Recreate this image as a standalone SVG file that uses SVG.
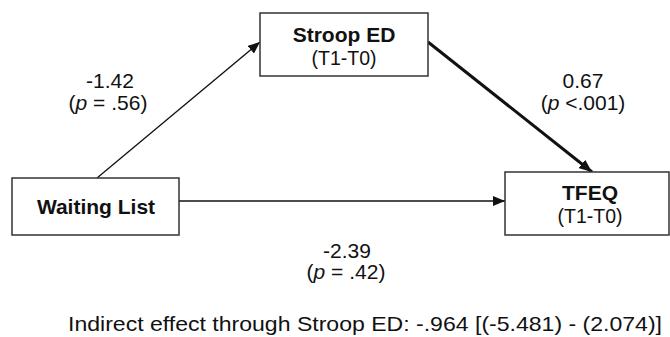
<svg xmlns="http://www.w3.org/2000/svg" width="670" height="337" viewBox="0 0 670 337">
<style>
.box{fill:#fff;stroke:#333;stroke-width:1.5}
.b{font-family:"Liberation Sans",Arial,sans-serif;font-weight:bold;font-size:21px;fill:#111;text-anchor:middle}
.r{font-family:"Liberation Sans",Arial,sans-serif;font-size:19.5px;fill:#111;text-anchor:middle}
.l{font-family:"Liberation Sans",Arial,sans-serif;font-size:21px;fill:#111;text-anchor:middle}
.thin{stroke:#111;stroke-width:1.3;fill:none}
.thick{stroke:#111;stroke-width:3;fill:none}
</style>
<defs>
<marker id="ah" viewBox="0 0 12 10" refX="12" refY="5" markerWidth="12" markerHeight="10" markerUnits="userSpaceOnUse" orient="auto">
<path d="M0,0 L12,5 L0,10 z" fill="#111"/>
</marker>
<marker id="ahk" viewBox="0 0 12 10" refX="12" refY="5" markerWidth="13" markerHeight="11" markerUnits="userSpaceOnUse" orient="auto">
<path d="M0,0 L12,5 L0,10 z" fill="#111"/>
</marker>
</defs>
<g id="connectors">
<line class="thin" x1="97" y1="178" x2="260" y2="42" marker-end="url(#ah)"/>
<line class="thick" x1="428" y1="42" x2="592" y2="172" marker-end="url(#ahk)"/>
<line class="thin" x1="179" y1="201" x2="505" y2="201" marker-end="url(#ah)"/>
</g>
<g id="stroop">
<rect class="box" x="260" y="13" width="168" height="63"/>
<text class="b" x="344" y="42">Stroop ED</text>
<text class="r" x="344" y="65">(T1-T0)</text>
</g>
<g id="waiting">
<rect class="box" x="12" y="178" width="167" height="57"/>
<text class="b" x="96" y="214">Waiting List</text>
</g>
<g id="tfeq">
<rect class="box" x="505" y="172" width="164" height="63"/>
<text class="b" x="590" y="200">TFEQ</text>
<text class="r" x="590" y="223">(T1-T0)</text>
</g>
<g id="labels">
<text class="l" x="110" y="88">-1.42</text>
<text class="l" x="108" y="110">(<tspan font-style="italic">p</tspan> = .56)</text>
<text class="l" x="583" y="88">0.67</text>
<text class="l" x="583" y="110">(<tspan font-style="italic">p</tspan> &lt;.001)</text>
<text class="l" x="347" y="258">-2.39</text>
<text class="l" x="346" y="279">(<tspan font-style="italic">p</tspan> = .42)</text>
<text class="l" x="365" y="331" textLength="594" lengthAdjust="spacingAndGlyphs">Indirect effect through Stroop ED: -.964 [(-5.481) - (2.074)]</text>
</g>
</svg>
